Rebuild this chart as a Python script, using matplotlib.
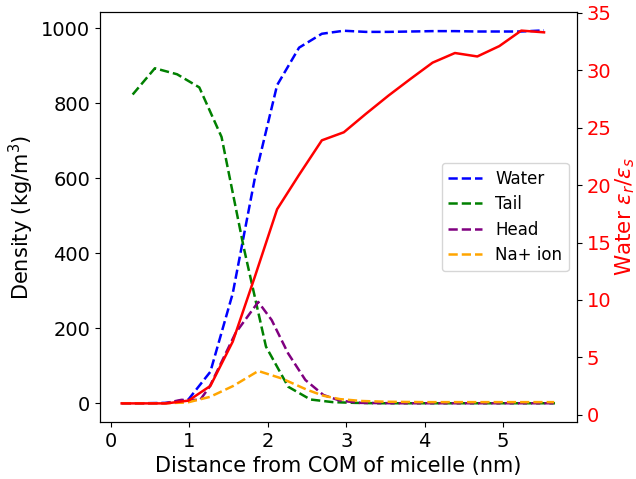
import matplotlib
matplotlib.use("Agg")
import matplotlib.pyplot as plt

# Water density and permittivity grid
x_water = [0.14, 0.42, 0.71, 0.99, 1.27, 1.555, 1.84, 2.12, 2.40, 2.69, 2.97,
           3.25, 3.54, 3.82, 4.10, 4.385, 4.67, 4.95, 5.23, 5.52]
water = [0, 0, 1, 10, 84, 293, 604, 848, 948, 985, 993,
         990, 990, 991, 992, 992, 991, 991, 991, 994]
eps_ratio = [1.0, 1.0, 1.0, 1.24, 2.52, 6.38, 12.1, 17.9, 20.9, 23.9, 24.6,
             26.2, 27.8, 29.25, 30.66, 31.5, 31.2, 32.1, 33.45, 33.3]

# Tail
x_tail = [0.28, 0.563, 0.846, 1.129, 1.412, 1.695, 1.978, 2.261, 2.544, 2.827,
          3.11, 3.393, 3.676, 3.959, 4.242, 4.525, 4.808, 5.091, 5.374, 5.66]
tail = [823, 893, 877, 842, 710, 415, 151, 44, 10, 3,
        1, 0, 0, 0, 0, 0, 0, 0, 0, 0]

# Head
x_head = [0.14, 0.69, 0.90, 1.14, 1.26, 1.59, 1.88, 2.05, 2.26, 2.48, 2.71,
          2.92, 3.18, 3.6, 4.0, 4.5, 5.0, 5.65]
head = [0, 0, 9, 9, 44, 187, 270, 222, 133, 62, 22,
        7, 1, 0, 0, 0, 0, 0]

# Na+ ion
x_na = [0.14, 0.69, 0.976, 1.265, 1.56, 1.88, 2.18, 2.50, 2.71, 2.92, 3.2,
        3.5, 4.0, 4.5, 5.0, 5.65]
na = [0, 0, 2, 17, 46, 86, 66, 36, 20, 11, 6,
      4, 3, 3, 3, 3]

fig = plt.figure(figsize=(6.36, 4.79), dpi=100)
ax1 = fig.add_axes([100/636, 1-422/479, 477/636, 410/479])
ax2 = ax1.twinx()

lw = 1.8
ax1.plot(x_water, water, '--', color='blue', lw=lw, label='Water')
ax1.plot(x_tail, tail, '--', color='green', lw=lw, label='Tail')
ax1.plot(x_head, head, '--', color='purple', lw=lw, label='Head')
ax1.plot(x_na, na, '--', color='orange', lw=lw, label='Na+ ion')
ax2.plot(x_water, eps_ratio, '-', color='red', lw=lw)

ax1.set_xlim(-0.136, 5.94)
ax1.set_ylim(-50, 1043)
ax2.set_ylim(-0.62, 35.07)

fs = 14
ax1.set_xticks([0, 1, 2, 3, 4, 5])
ax1.set_yticks([0, 200, 400, 600, 800, 1000])
ax1.tick_params(labelsize=fs)
ax2.set_yticks([0, 5, 10, 15, 20, 25, 30, 35])
ax2.tick_params(labelsize=fs, labelcolor='red')

ax1.set_xlabel('Distance from COM of micelle (nm)', fontsize=15)
ax1.set_ylabel('Density (kg/m$^3$)', fontsize=15)
ax2.set_ylabel(r'Water $\varepsilon_r/\varepsilon_s$', fontsize=15.5,
               color='red', labelpad=1)

ax1.legend(loc='center right', fontsize=12, labelspacing=0.45)

fig.savefig('out.png', dpi=100)
